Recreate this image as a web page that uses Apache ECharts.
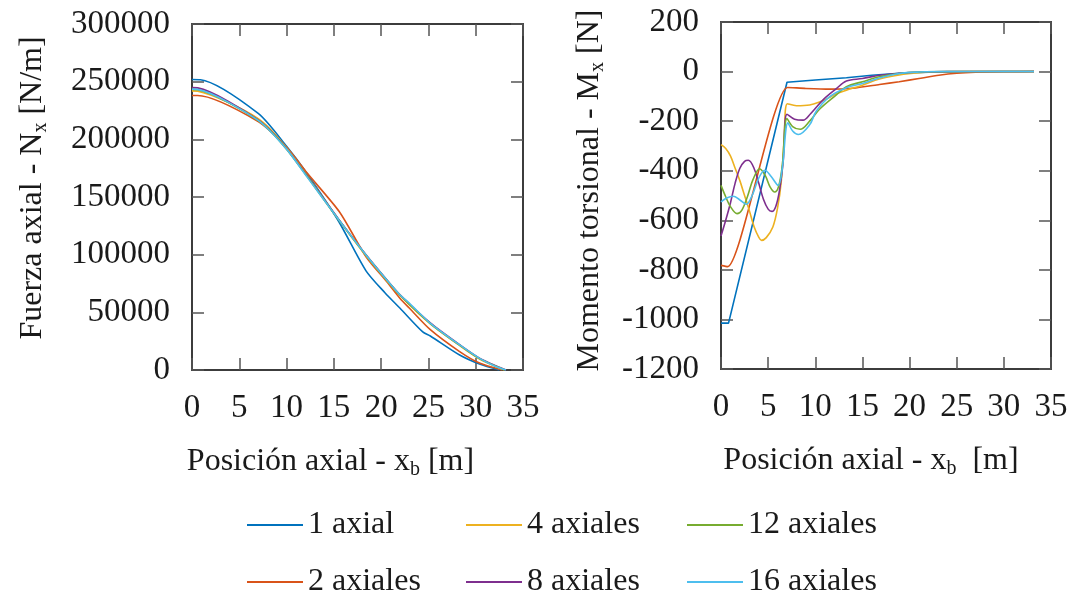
<!DOCTYPE html>
<html>
<head>
<meta charset="utf-8">
<title>Fuerza axial y momento torsional</title>
<script src="https://cdn.jsdelivr.net/npm/echarts/dist/echarts.min.js"></script>
<style>
  html, body { margin: 0; padding: 0; background: #ffffff; }
  #chart { width: 1072px; height: 596px; }
</style>
</head>
<body>
<div id="chart"></div>
<script>
// Series names (legend order: column by column)
const seriesNames = ['1 axial', '2 axiales', '4 axiales', '8 axiales', '12 axiales', '16 axiales'];
const seriesColors = ['#0072BD', '#D95319', '#EDB120', '#7E2F8E', '#77AC30', '#4DBEEE'];

// Axis ranges
const xRange = { min: 0, max: 35, step: 5 };
const nxRange = { min: 0, max: 300000, step: 50000 };
const mxRange = { min: -1200, max: 200, step: 200 };

// Axial force N_x [N/m] vs. axial position x_b [m]  -> [x_b, N_x]
const nx1 = [[0,251900],[0.9,251700],[7,222500],[10,194000],[12.2,170000],[15.5,129000],[18.4,86000],[20.4,67000],[22,53500],[24.4,33000],[25.2,29500],[28.3,13000],[30.4,5200],[32.5,0]];
const nx2 = [[0,238000],[0.6,238000],[7,215500],[10,193000],[12.2,170500],[15.6,137000],[18.4,98200],[20.6,76500],[22,62000],[23,53500],[25.2,35000],[28.3,16000],[30.4,6000],[32.8,0]];
const nx4 = [[0,242000],[0.6,241800],[7,218000],[10,192500],[15.5,130500],[18.4,99000],[20.6,77500],[22,64500],[25.2,40000],[28.3,21200],[30.4,9600],[33,0]];
const nx8 = [[0,244800],[0.6,244600],[7,216800],[10,191800],[15.5,130800],[18.4,99900],[20.6,78200],[22,65200],[25.2,40800],[28.3,21900],[30.4,10300],[33.2,0]];
const nx12 = [[0,243200],[0.6,243000],[7,216300],[10,191300],[15.5,130200],[18.4,99500],[20.6,77800],[22,64800],[25.2,40300],[28.3,21500],[30.4,9900],[33.1,0]];
const nx16 = [[0,243500],[0.6,243300],[7,216500],[10,191500],[12.2,167000],[15.5,130500],[18.4,99700],[20.6,78000],[22,65000],[23,57800],[25.2,40500],[28.3,21700],[30.4,10100],[32,3500],[33.2,0]];

// Torsional moment M_x [N] vs. axial position x_b [m]  -> [x_b, M_x]
const mx1 = [[0,-1015],[0.8,-1015],[7,-43],[10,-34],[13.3,-25],[16,-15],[18.9,-7],[22,-3],[26,-1],[30,0],[33.2,0]];
const mx2 = [[0,-782],[0.7,-787],[7.05,-64],[9,-68],[11.5,-71],[14,-67],[16.8,-52],[18.9,-41],[21,-28],[23.1,-15],[25,-7],[27,-3],[30,-1],[33.2,0]];
const mx4 = [[0,-295],[0.5,-310],[1,-340],[1.5,-390],[2,-440],[2.5,-500],[3,-560],[3.5,-625],[4,-668],[4.3,-681],[4.8,-670],[5.5,-627],[6,-550],[6.4,-440],[6.7,-270],[7.05,-130],[8,-138],[9.4,-135],[10.5,-122],[11.5,-105],[12.2,-90],[13.3,-75],[15,-55],[16.8,-30],[18.9,-14],[21,-5],[23,-1],[26,0],[33.2,0]];
const mx8 = [[0,-663],[0.5,-600],[1,-530],[1.5,-450],[2,-390],[2.5,-362],[2.9,-358],[3.5,-390],[4,-450],[4.5,-515],[5,-555],[5.4,-564],[5.8,-545],[6.2,-480],[6.6,-360],[7,-172],[7.8,-192],[8.7,-196],[9.5,-170],[10.8,-115],[12.2,-70],[13.3,-38],[15,-28],[16.8,-15],[18.9,-7],[21,-2],[24,0],[33.2,0]];
const mx12 = [[0,-459],[0.5,-505],[1,-545],[1.7,-573],[2.2,-560],[2.8,-505],[3.4,-435],[4.1,-392],[4.7,-420],[5.2,-465],[5.7,-486],[6.1,-465],[6.5,-380],[7,-190],[7.6,-222],[8.4,-233],[9.4,-200],[10.5,-150],[12.2,-95],[13.3,-61],[15,-41],[16.8,-21],[18.9,-8],[21,-2],[24,0],[33.2,0]];
const mx16 = [[0,-526],[0.6,-510],[1.3,-503],[2,-518],[2.7,-535],[3.3,-500],[4,-430],[4.65,-398],[5.3,-422],[6.06,-459],[6.5,-390],[7.1,-207],[7.6,-240],[8.2,-254],[9.4,-215],[10.1,-160],[11.5,-102],[13.3,-65],[15,-48],[16.8,-26],[18.9,-8],[21,-2],[24,0],[33.2,0]];

const nxData = [nx1, nx2, nx4, nx8, nx12, nx16];
const mxData = [mx1, mx2, mx4, mx8, mx12, mx16];
// Smoothing per curve of the torsion panel (the first two are piecewise straight)
const mxSmooth = [false, 0.2, 0.35, 0.35, 0.35, 0.35];

const FONT = "'Liberation Serif', 'Times New Roman', serif";
const TXT = '#1a1a1a';
const FS = 32;

const axisLineStyle = { show: true, onZero: false, lineStyle: { color: '#3c3c3c', width: 2 } };
const tickStyle = { show: true, inside: true, length: 12, lineStyle: { color: '#555555', width: 1.5 } };
const labelStyle = { fontFamily: FONT, fontSize: 33, color: TXT, margin: 22, formatter: v => String(v) };
function titleStyle(padding) {
  return {
    padding: padding,
    rich: {
      n: { fontFamily: FONT, fontSize: FS, color: TXT, lineHeight: 38 },
      s: { fontFamily: FONT, fontSize: 20, color: TXT, padding: [15, 0, 0, 0] }
    }
  };
}

function valueAxis(range, grid, position, extra) {
  return Object.assign({
    type: 'value', gridIndex: grid, position: position,
    min: range.min, max: range.max, interval: range.step,
    axisLine: axisLineStyle, axisTick: tickStyle,
    axisLabel: labelStyle, splitLine: { show: false }
  }, extra || {});
}
function frameAxis(range, grid, position) {
  return valueAxis(range, grid, position, { axisLabel: { show: false } });
}

const xAxes = [
  valueAxis(xRange, 0, 'bottom', {
    name: '{n|Posición axial - x}{s|b}{n| [m]}', nameLocation: 'middle', nameGap: 73,
    nameTextStyle: titleStyle([0, 54, 0, 0])
  }),
  frameAxis(xRange, 0, 'top'),
  valueAxis(xRange, 1, 'bottom', {
    name: '{n|Posición axial - x}{s|b}{n|  [m]}', nameLocation: 'middle', nameGap: 73,
    nameTextStyle: titleStyle([0, 30, 0, 0])
  }),
  frameAxis(xRange, 1, 'top')
];
const yAxes = [
  valueAxis(nxRange, 0, 'left', {
    name: '{n|Fuerza axial - N}{s|x}{n| [N/m]}', nameLocation: 'middle', nameGap: 140, nameRotate: 90,
    nameTextStyle: titleStyle([0, 0, 0, 18])
  }),
  frameAxis(nxRange, 0, 'right'),
  valueAxis(mxRange, 1, 'left', {
    name: '{n|Momento torsional - M}{s|x}{n| [N]}', nameLocation: 'middle', nameGap: 112, nameRotate: 90,
    nameTextStyle: titleStyle([0, 0, 0, 10])
  }),
  frameAxis(mxRange, 1, 'right')
];

const series = [];
seriesNames.forEach((name, i) => {
  series.push({
    name: name, type: 'line', xAxisIndex: 0, yAxisIndex: 0,
    data: nxData[i], showSymbol: false, symbol: 'none', smooth: 0.25,
    lineStyle: { color: seriesColors[i], width: 1.6 }, itemStyle: { color: seriesColors[i] },
    z: 2 + i
  });
  series.push({
    name: name, type: 'line', xAxisIndex: 2, yAxisIndex: 2,
    data: mxData[i], showSymbol: false, symbol: 'none', smooth: mxSmooth[i],
    lineStyle: { color: seriesColors[i], width: 1.6 }, itemStyle: { color: seriesColors[i] },
    z: 2 + i
  });
});

// Legend: two rows, three columns
const legendCols = [242, 461, 682];
const legendRows = [504, 561];
const legendOrder = [['1 axial', '4 axiales', '12 axiales'], ['2 axiales', '8 axiales', '16 axiales']];
const legends = [];
legendOrder.forEach((row, r) => {
  row.forEach((name, c) => {
    legends.push({
      data: [name], left: legendCols[c], top: legendRows[r],
      icon: 'rect', itemWidth: 56, itemHeight: 2, selectedMode: false,
      textStyle: { fontFamily: FONT, fontSize: FS, color: TXT }
    });
  });
});

const chart = echarts.init(document.getElementById('chart'), null, { renderer: 'canvas' });
chart.setOption({
  animation: false,
  backgroundColor: '#ffffff',
  grid: [
    { left: 192, top: 24, width: 331, height: 346 },
    { left: 721, top: 22, width: 330, height: 347 }
  ],
  xAxis: xAxes,
  yAxis: yAxes,
  legend: legends,
  series: series
});
</script>
</body>
</html>
